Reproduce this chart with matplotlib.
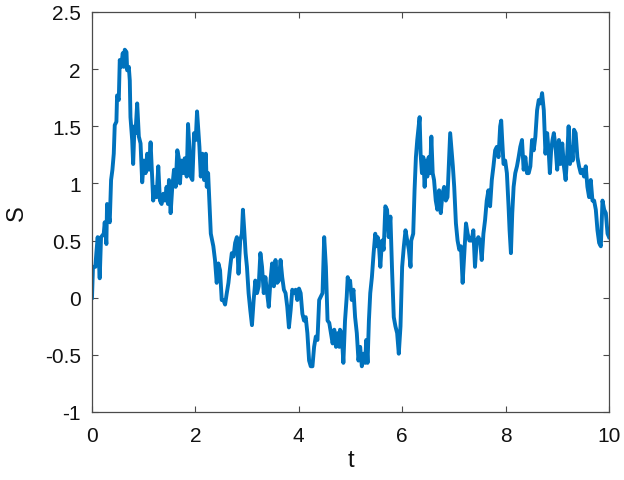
import matplotlib
matplotlib.use("Agg")
import matplotlib.pyplot as plt

t = [0.0, 0.019, 0.065, 0.084, 0.110, 0.149, 0.175, 0.227, 0.246, 0.278, 0.291, 0.343, 0.369, 0.395,
     0.421, 0.440, 0.472, 0.485, 0.518, 0.537, 0.563, 0.595, 0.615, 0.634, 0.667, 0.680, 0.712, 0.731,
     0.744, 0.777, 0.796, 0.822, 0.841, 0.874, 0.906, 0.939, 0.971, 1.003, 1.036, 1.068, 1.100, 1.133,
     1.159, 1.184, 1.210, 1.249, 1.282, 1.314, 1.346, 1.379, 1.411, 1.443, 1.469, 1.489, 1.521, 1.553,
     1.586, 1.618, 1.650, 1.676, 1.702, 1.728, 1.761, 1.793, 1.832, 1.858, 1.883, 1.909, 1.942, 1.974,
     2.006, 2.032, 2.052, 2.078, 2.104, 2.136, 2.168, 2.201, 2.220, 2.246, 2.272, 2.298,
     2.347, 2.379, 2.412, 2.444, 2.477, 2.509, 2.542, 2.574, 2.607, 2.639, 2.672, 2.704, 2.737, 2.769,
     2.802, 2.834, 2.867, 2.899, 2.919, 2.945, 2.971, 2.997, 3.029, 3.062, 3.094, 3.127, 3.159, 3.192,
     3.224, 3.257, 3.289, 3.322, 3.354, 3.387, 3.419, 3.452, 3.484, 3.517, 3.549, 3.582, 3.614, 3.647,
     3.679, 3.712, 3.744, 3.777, 3.809, 3.842, 3.874, 3.906, 3.939, 3.971, 4.004, 4.036, 4.069, 4.101,
     4.134, 4.166, 4.199, 4.231, 4.264, 4.296, 4.329, 4.361, 4.394, 4.426, 4.459, 4.491, 4.524, 4.556,
     4.589, 4.621, 4.654, 4.686, 4.719, 4.751, 4.784,
     4.797, 4.829, 4.862, 4.894, 4.927, 4.946, 4.972, 4.992, 5.024, 5.057, 5.089, 5.122, 5.154, 5.187,
     5.219, 5.252, 5.284, 5.304, 5.330, 5.356, 5.382, 5.414, 5.447, 5.479, 5.499, 5.525, 5.551, 5.577,
     5.609, 5.642, 5.674, 5.707, 5.739, 5.772, 5.804, 5.837, 5.869, 5.902, 5.934, 5.967, 5.999, 6.032,
     6.064, 6.097, 6.129, 6.161, 6.175, 6.213, 6.239, 6.265, 6.291, 6.311, 6.337, 6.356, 6.382, 6.408,
     6.434, 6.460, 6.486, 6.512, 6.538, 6.564, 6.590, 6.616, 6.649, 6.681, 6.714, 6.746, 6.779, 6.811,
     6.844, 6.876, 6.902, 6.928, 6.954, 6.980, 7.006, 7.039, 7.071, 7.104, 7.136, 7.169, 7.201, 7.234,
     7.266, 7.299,
     7.343, 7.376, 7.408, 7.441, 7.473, 7.506, 7.538, 7.571, 7.603, 7.635, 7.668, 7.700, 7.733, 7.765,
     7.798, 7.830, 7.863, 7.895, 7.915, 7.934, 7.960, 7.992, 8.025, 8.057, 8.077, 8.103, 8.129, 8.155,
     8.187, 8.220, 8.252, 8.284, 8.317, 8.349, 8.382, 8.414, 8.447, 8.479, 8.511, 8.544, 8.576, 8.609,
     8.641, 8.674, 8.706, 8.739, 8.771, 8.804, 8.836, 8.856, 8.881, 8.907, 8.933, 8.966, 8.998, 9.031,
     9.063, 9.096, 9.128, 9.161, 9.193, 9.219, 9.245, 9.271, 9.297, 9.323, 9.355, 9.388, 9.420, 9.453,
     9.485, 9.517, 9.550, 9.582, 9.615, 9.647, 9.680, 9.712, 9.745, 9.777, 9.809, 9.842, 9.874, 9.907,
     9.939, 9.972, 10.0]

S = [0.00, 0.27, 0.27, 0.39, 0.53, 0.17, 0.53, 0.56, 0.66, 0.47, 0.82, 0.66, 1.03, 1.12,
     1.26, 1.51, 1.54, 1.77, 1.73, 2.08, 2.02, 2.14, 2.02, 2.17, 2.15, 1.99, 2.02, 1.90,
     1.58, 1.38, 1.17, 1.50, 1.44, 1.70, 1.41, 1.35, 1.01, 1.20, 1.09, 1.26, 1.12, 1.36,
     1.09, 0.85, 0.97, 0.88, 1.15, 0.85, 0.82, 0.91, 0.85, 0.97, 0.82, 1.03, 0.74, 0.97,
     1.12, 0.97, 1.29, 1.23, 1.00, 1.20, 1.09, 1.22, 1.06, 1.52, 1.32, 1.06, 1.03, 1.44,
     1.38, 1.63, 1.50, 1.32, 1.06, 1.26, 1.03, 1.26, 0.97, 1.09, 0.82, 0.56,
     0.45, 0.33, 0.13, 0.30, 0.24, -0.02, -0.02, -0.06, 0.04, 0.13, 0.27, 0.39, 0.36, 0.48,
     0.53, 0.21, 0.50, 0.56, 0.77, 0.59, 0.39, 0.27, 0.04, -0.11, -0.24, -0.02, 0.15, 0.04,
     0.10, 0.39, 0.27, 0.04, 0.18, 0.04, -0.08, 0.15, 0.30, 0.10, 0.33, 0.13, 0.15, 0.33,
     0.18, 0.07, 0.04, -0.08, -0.26, -0.11, 0.07, 0.04, 0.07, -0.02, 0.08, 0.04, -0.14, -0.20,
     -0.17, -0.31, -0.55, -0.60, -0.60, -0.43, -0.34, -0.37, -0.02, 0.01, 0.04, 0.53, 0.27, -0.20,
     -0.22, -0.31, -0.40, -0.28, -0.43, -0.31, -0.43,
     -0.28, -0.31, -0.57, -0.20, 0.01, 0.18, 0.10, 0.15, -0.02, 0.07, -0.17, -0.31, -0.55, -0.43,
     -0.60, -0.49, -0.57, -0.37, -0.57, -0.20, 0.04, 0.18, 0.39, 0.56, 0.45, 0.53, 0.45, 0.27,
     0.50, 0.42, 0.80, 0.77, 0.53, 0.71, 0.24, -0.17, -0.25, -0.31, -0.49, -0.25, 0.27, 0.45,
     0.59, 0.50, 0.42, 0.27, 0.50, 0.56, 0.94, 1.23, 1.38, 1.47, 1.58, 1.26, 1.09, 1.23,
     0.97, 1.20, 1.06, 1.23, 1.09, 1.41, 1.09, 1.03, 0.85, 0.77, 0.94, 0.74, 0.91, 0.97,
     0.85, 0.88, 1.17, 1.44, 1.29, 1.15, 0.97, 0.65, 0.50, 0.42, 0.45, 0.13, 0.39, 0.65,
     0.56, 0.50,
     0.50, 0.59, 0.27, 0.50, 0.53, 0.50, 0.33, 0.56, 0.68, 0.85, 0.94, 0.80, 1.03, 1.15,
     1.29, 1.32, 1.23, 1.50, 1.55, 1.38, 1.17, 1.20, 1.09, 0.80, 0.59, 0.39, 0.74, 0.97,
     1.09, 1.15, 1.23, 1.32, 1.38, 1.12, 1.23, 1.09, 1.09, 1.15, 1.38, 1.29, 1.41, 1.64,
     1.73, 1.70, 1.79, 1.64, 1.26, 1.44, 1.26, 1.09, 1.29, 1.38, 1.44, 1.32, 1.12, 1.38,
     1.17, 1.35, 1.15, 1.03, 1.26, 1.50, 1.17, 1.32, 1.20, 1.47, 1.44, 1.23, 1.15, 1.09,
     1.12, 1.06, 1.15, 0.97, 0.88, 1.03, 0.85, 0.85, 0.77, 0.59, 0.48, 0.45, 0.85, 0.77,
     0.74, 0.56, 0.53]

xticks = [0, 2, 4, 6, 8, 10]
yticks = [-1, -0.5, 0, 0.5, 1, 1.5, 2, 2.5]
ytick_labels = ["-1", "-0.5", "0", "0.5", "1", "1.5", "2", "2.5"]

plt.rcParams['font.family'] = ['Liberation Sans', 'DejaVu Sans']

fig = plt.figure(figsize=(6.24, 4.81), dpi=100)
ax = fig.add_axes([92/624, 68/481, 517/624, 400/481])
ax.plot(t, S, color='#0072BD', lw=2.8, solid_joinstyle='round')
ax.set_xlim(0, 10)
ax.set_ylim(-1, 2.5)
ax.set_xticks(xticks)
ax.set_xticklabels([str(v) for v in xticks])
ax.set_yticks(yticks)
ax.set_yticklabels(ytick_labels)
edge = '#4a4a4a'
for sp in ax.spines.values():
    sp.set_color(edge)
    sp.set_linewidth(0.9)
ax.tick_params(axis='both', direction='in', length=4, width=0.8, color=edge,
               labelsize=15, labelcolor='#111111', top=True, right=True)
ax.tick_params(axis='x', pad=10)
ax.tick_params(axis='y', pad=8)
ax.set_xlabel('t', fontsize=17, labelpad=3, color='#111111')
ax.set_ylabel('S', fontsize=17, labelpad=12, color='#111111')
fig.savefig('out.png', dpi=100)
